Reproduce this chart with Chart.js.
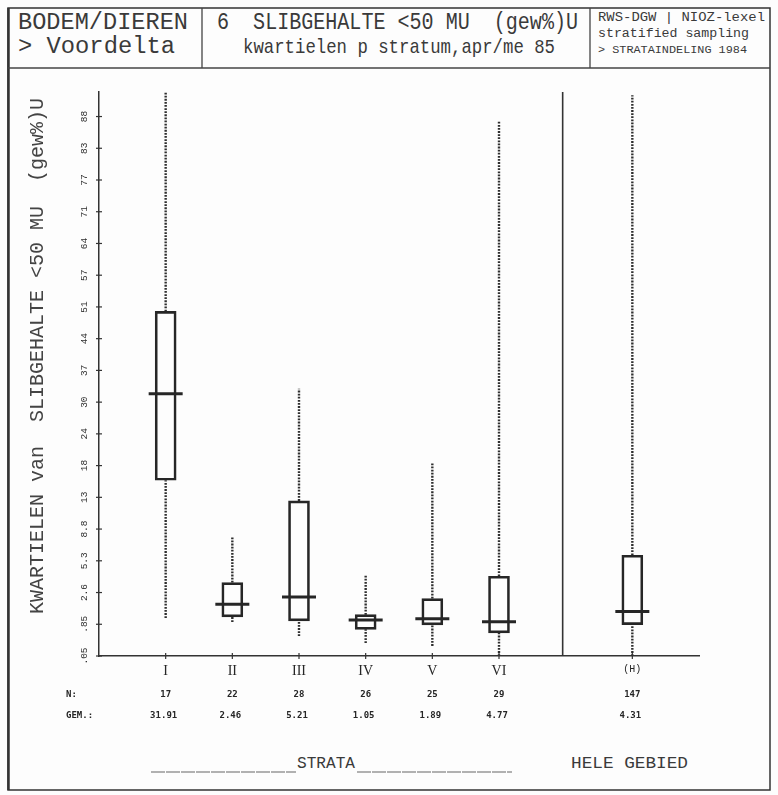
<!DOCTYPE html>
<html><head><meta charset="utf-8">
<script src="https://cdn.jsdelivr.net/npm/chart.js@4/dist/chart.umd.min.js"></script>
<style>
html,body{margin:0;padding:0;background:#fff;}
#wrap{position:relative;width:778px;height:795px;overflow:hidden;background:#fdfdfd;}
#deco{position:absolute;left:0;top:0;}
#deco text{white-space:pre;}
#c{position:absolute;left:0;top:0;}
</style></head><body>
<div id="wrap">
<svg id="deco" width="778" height="795" xmlns="http://www.w3.org/2000/svg" font-family="Liberation Mono, DejaVu Sans Mono, monospace" fill="#3a3a3a">
 <rect x="8" y="8" width="762" height="782" fill="none" stroke="#333" stroke-width="1.5"/>
 <line x1="8.5" y1="8" x2="8.5" y2="790" stroke="#333" stroke-width="2.5"/>
 <line x1="8" y1="68" x2="770" y2="68" stroke="#444" stroke-width="1.3"/>
 <line x1="202" y1="8" x2="202" y2="68" stroke="#444" stroke-width="1.3"/>
 <line x1="590" y1="8" x2="590" y2="68" stroke="#444" stroke-width="1.3"/>
 <text x="18" y="29" font-size="23" textLength="170" lengthAdjust="spacingAndGlyphs">BODEM/DIEREN</text>
 <text x="18" y="53" font-size="23" textLength="157" lengthAdjust="spacingAndGlyphs">&gt; Voordelta</text>
 <text x="217" y="29" font-size="23" textLength="361" lengthAdjust="spacingAndGlyphs">6  SLIBGEHALTE &lt;50 MU  (gew%)U</text>
 <text x="243" y="53" font-size="21" textLength="312" lengthAdjust="spacingAndGlyphs">kwartielen p stratum,apr/me 85</text>
 <text x="598" y="21" font-size="12" textLength="167" lengthAdjust="spacingAndGlyphs">RWS-DGW | NIOZ-lexel</text>
 <text x="598" y="37" font-size="12" textLength="151" lengthAdjust="spacingAndGlyphs">stratified sampling</text>
 <text x="598" y="53" font-size="11" textLength="149" lengthAdjust="spacingAndGlyphs">&gt; STRATAINDELING 1984</text>
 <line x1="151" y1="772" x2="296" y2="772" stroke="#666" stroke-width="1.2" stroke-dasharray="14 1"/>
 <line x1="357" y1="772" x2="512" y2="772" stroke="#666" stroke-width="1.2" stroke-dasharray="14 1"/>
 <text x="297" y="768" font-size="16" textLength="58" lengthAdjust="spacingAndGlyphs">STRATA</text>
 <text x="571" y="768" font-size="16" textLength="117" lengthAdjust="spacingAndGlyphs">HELE GEBIED</text>
</svg>
<canvas id="c" width="778" height="795"></canvas>
</div>
<script>
// ---- data (values in gew%) ----
const categories = ['I','II','III','IV','V','VI','(H)'];
const whiskerLow  = [1.13, 0.95, 0.44, 0.26, 0.20, 0.05, 0.05];
const quart1      = [16.0, 1.18, 1.00, 0.66, 0.83, 0.54, 0.84];
const medians     = [32.2, 1.87, 2.33, 1.04, 1.10, 0.96, 1.45];
const quart3      = [50.0, 3.38, 12.8, 1.29, 2.22, 3.91, 5.91];
const whiskerHigh = [91.3, 7.97, 33.2, 4.02, 18.9, 87.4, 90.9];
const nCounts     = ['17','22','28','26','25','29','147'];
const means       = ['31.91','2.46','5.21','1.05','1.89','4.77','4.31'];
const yTickLabels = ['.05','.85','2.6','5.3','8.8','13','18','24','30','37','44','51','57','64','71','77','83','88'];

// x axis slots: blank margin, six strata, blank gap, whole area, blank margin
const axisLabels = ['', ...categories.slice(0,6), '', categories[6], ''];

// arcsine-sqrt transform (ticks equally spaced in angle)
const DEG = 180/Math.PI;
const T0 = Math.asin(Math.sqrt(0.0005))*DEG;
const STEP = 4.0265;
function toT(p){ const v=Math.max(0,Math.min(100,p))/100; return (Math.asin(Math.sqrt(v))*DEG - T0)/STEP; }
function fromT(t){ const th=(T0+t*STEP)/DEG; return 100*Math.sin(th)*Math.sin(th); }

class ArcsineScale extends Chart.Scale {
  parse(raw){ if(raw===null||raw===undefined) return null; const n=+raw; return isFinite(n)?n:null; }
  determineDataLimits(){ this.min=this.options.min; this.max=this.options.max; }
  buildTicks(){ return yTickLabels.map((l,i)=>({value:fromT(i)})); }
  getLabelForValue(v){ return String(v); }
  getPixelForValue(v){
    if(v===null||v===undefined||isNaN(v)) return NaN;
    const a=toT(this.min), b=toT(this.max);
    return this.getPixelForDecimal((toT(v)-a)/(b-a));
  }
  getValueForPixel(px){ const a=toT(this.min), b=toT(this.max); return fromT(a+this.getDecimalForPixel(px)*(b-a)); }
}
ArcsineScale.id='arcsine';
ArcsineScale.defaults={};
Chart.register(ArcsineScale);

const boxData = categories.map((c,i)=>({x:c, y:[quart1[i], quart3[i]]}));
const medData = categories.map((c,i)=>({x:c, y:medians[i]}));
const whiskData = [];
categories.forEach((c,i)=>{
  whiskData.push({x:c,y:whiskerLow[i]},{x:c,y:quart1[i]},{x:c,y:null},
                 {x:c,y:quart3[i]},{x:c,y:whiskerHigh[i]},{x:c,y:null});
});

const ink='#262626';
const extras = {
  id:'extras',
  afterDraw(chart){
    const {ctx, chartArea, scales:{x, y}} = chart;
    ctx.save();
    // small cross ticks on both axes
    ctx.strokeStyle='#333'; ctx.lineWidth=1.2;
    x.ticks.forEach(t=>{ const px=x.getPixelForValue(t.value);
      ctx.beginPath(); ctx.moveTo(px, chartArea.bottom-3); ctx.lineTo(px, chartArea.bottom+3); ctx.stroke(); });
    y.ticks.forEach(t=>{ const py=y.getPixelForValue(t.value);
      ctx.beginPath(); ctx.moveTo(chartArea.left-3, py); ctx.lineTo(chartArea.left+3, py); ctx.stroke(); });
    // separator between strata and whole area
    const sx = (x.getPixelForValue(6)+x.getPixelForValue(8))/2 - 3;
    ctx.lineWidth=1.6;
    ctx.beginPath(); ctx.moveTo(sx, chartArea.top); ctx.lineTo(sx, chartArea.bottom); ctx.stroke();
    // N and GEM rows
    const yN = chartArea.bottom + 39, yG = chartArea.bottom + 60;
    ctx.fillStyle=ink; ctx.textBaseline='middle';
    ctx.font='bold 9px "DejaVu Sans Mono"';
    ctx.textAlign='center';
    categories.forEach((c,i)=>{
      const px = x.getPixelForValue(c);
      ctx.fillText(nCounts[i], px, yN);
      ctx.fillText(means[i], px-2, yG);
    });
    ctx.textAlign='left';
    ctx.fillText('N:', 66, yN);
    ctx.fillText('GEM.:', 66, yG);
    ctx.restore();
  }
};

new Chart(document.getElementById('c'), {
  type:'bar',
  data:{
    labels: axisLabels,
    datasets:[
      {type:'scatter', data:medData, pointStyle:'line', pointRadius:17, pointHoverRadius:17,
       pointBorderWidth:3, pointBorderColor:ink, pointBackgroundColor:ink, order:0},
      {type:'bar', data:boxData, barThickness:21, borderWidth:2, borderColor:ink,
       backgroundColor:'rgba(0,0,0,0)', borderSkipped:false, order:1},
      {type:'line', data:whiskData, borderColor:'#2e2e2e', borderWidth:2.4, borderDash:[1.8,1.3],
       pointRadius:0, spanGaps:false, fill:false, order:2}
    ]
  },
  plugins:[extras],
  options:{
    responsive:false, animation:false, events:[],
    layout:{padding:{left:0, top:92, right:79, bottom:109}},
    plugins:{legend:{display:false}, tooltip:{enabled:false}},
    scales:{
      x:{
        type:'category', offset:false,
        afterBuildTicks: s => { s.ticks = s.ticks.filter(t => axisLabels[t.value] !== ''); },
        ticks:{autoSkip:false, maxRotation:0, color:ink, padding:7,
          font: ctx => (ctx.tick && ctx.tick.label==='(H)') ? {family:'Liberation Mono', size:10} : {family:'Liberation Serif', size:14}},
        grid:{drawOnChartArea:false, drawTicks:false, offset:false, tickLength:0},
        border:{color:'#333', width:1.5},
        afterFit: s => { s.height = 30; }
      },
      y:{
        type:'arcsine', position:'left', min:0.05, max:Math.max(...whiskerHigh),
        ticks:{callback:(v,i)=>yTickLabels[i], minRotation:90, maxRotation:90, crossAlign:'center',
          autoSkip:false, color:'#2e2e2e', padding:6, font:{family:'Liberation Mono', size:9.5}},
        grid:{drawOnChartArea:false, drawTicks:false, tickLength:0},
        border:{color:'#333', width:1.5},
        title:{display:true, text:'   KWARTIELEN van  SLIBGEHALTE <50 MU  (gew%)U', color:'#444',
          font:{family:'Liberation Mono', size:20}, padding:{top:26, bottom:0}},
        afterFit: s => { s.width = 99; }
      }
    }
  }
});
</script>
</body></html>
